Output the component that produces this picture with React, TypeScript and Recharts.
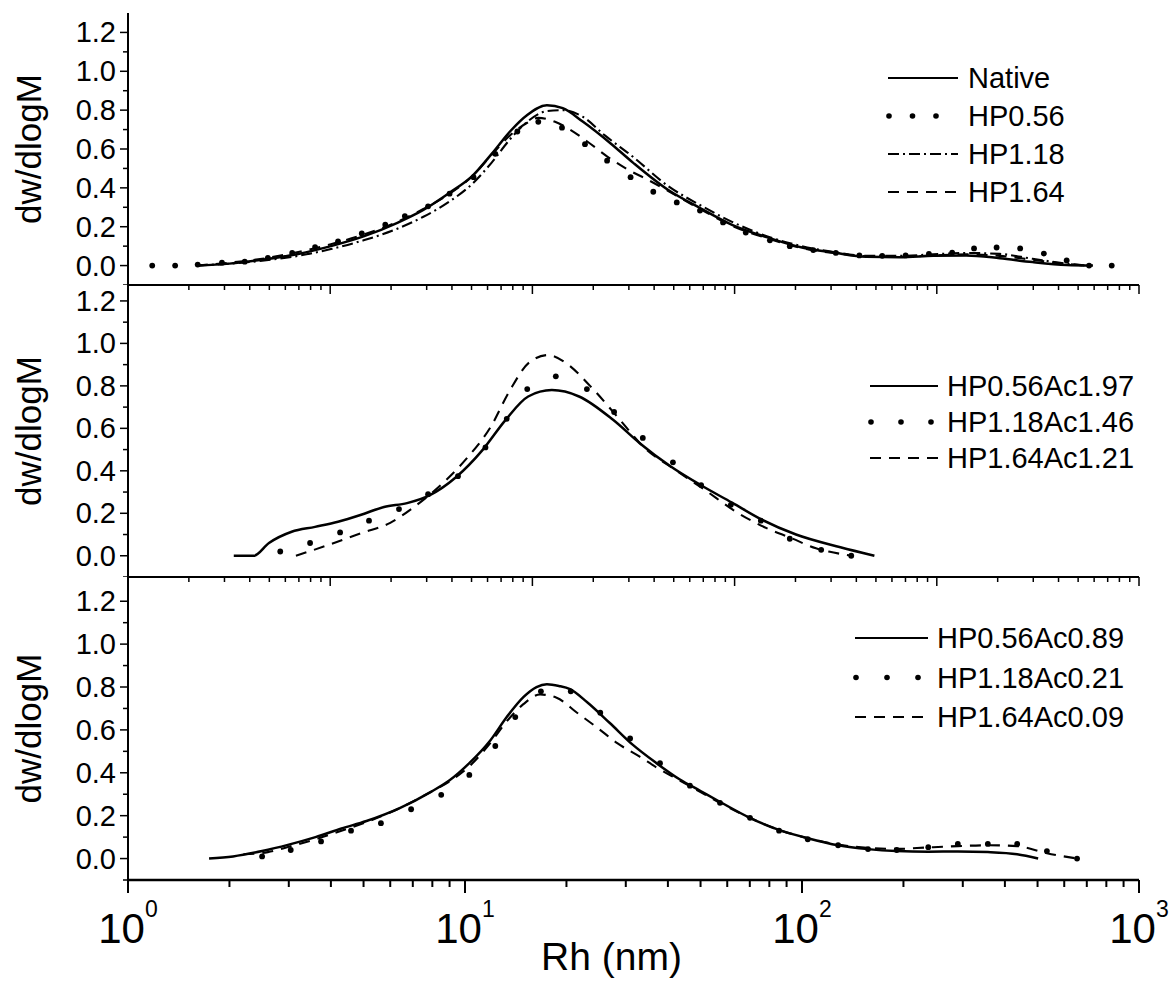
import React from 'react';
import { LineChart, Line, XAxis, YAxis, Legend, Label } from 'recharts';

const FONT = '"Liberation Sans", Arial, Helvetica, sans-serif';

// ---------- tick values ----------
const xMajorTicks = [1, 10, 100, 1000];
const xMinorTicks = [2, 3, 4, 5, 6, 7, 8, 9, 20, 30, 40, 50, 60, 70, 80, 90, 200, 300, 400, 500, 600, 700, 800, 900];
const innerMajorTicks = [1, 10, 100, 1000, 10000, 100000];
const innerMinorTicks = [
  2, 3, 4, 5, 6, 7, 8, 9,
  20, 30, 40, 50, 60, 70, 80, 90,
  200, 300, 400, 500, 600, 700, 800, 900,
  2000, 3000, 4000, 5000, 6000, 7000, 8000, 9000,
  20000, 30000, 40000, 50000, 60000, 70000, 80000, 90000,
];
const yMajorTicks = [0, 0.2, 0.4, 0.6, 0.8, 1.0, 1.2];
const yMinorTicks = [-0.1, 0.1, 0.3, 0.5, 0.7, 0.9, 1.1];

// ---------- panel 1 ----------
const nativeRh = [1.6, 2.0, 2.5, 3.2, 4.0, 5.0, 6.3, 7.5, 9.0, 10.5, 12.0, 13.6, 15.3, 17.5, 19.5, 22.4, 27, 31.5, 40, 50, 62, 79, 100, 124, 155, 195, 245, 307, 386, 483, 610, 730];
const nativeVal = [0.0, 0.01, 0.03, 0.06, 0.1, 0.15, 0.22, 0.285, 0.375, 0.46, 0.575, 0.69, 0.775, 0.825, 0.81, 0.74, 0.63, 0.53, 0.39, 0.295, 0.21, 0.145, 0.093, 0.067, 0.045, 0.043, 0.05, 0.052, 0.038, 0.018, 0.003, 0.0];

const hp056Rh = [1.18, 1.38, 1.61, 1.9, 2.22, 2.6, 3.07, 3.59, 4.2, 4.94, 5.8, 6.63, 7.77, 9.0, 10.6, 12.3, 14.3, 16.5, 19.4, 22.7, 26.4, 31.0, 36.2, 42.5, 49.8, 58.3, 68.1, 80.3, 92, 108, 126, 148, 173, 203, 238, 279, 324, 378, 444, 522, 610, 711, 830];
const hp056Val = [0.0, 0.0, 0.005, 0.015, 0.02, 0.04, 0.065, 0.095, 0.125, 0.165, 0.21, 0.255, 0.305, 0.37, 0.455, 0.575, 0.69, 0.74, 0.71, 0.625, 0.54, 0.455, 0.38, 0.325, 0.283, 0.222, 0.17, 0.13, 0.1, 0.08, 0.065, 0.052, 0.05, 0.052, 0.06, 0.067, 0.088, 0.093, 0.088, 0.062, 0.026, 0.0, 0.0];

const hp118Rh = [1.6, 2.0, 2.5, 3.2, 4.0, 5.0, 6.3, 7.5, 9.0, 10.5, 12.0, 13.6, 15.3, 17.5, 19.5, 22.4, 26, 31.5, 40, 50, 62, 79, 100, 124, 155, 195, 245, 307, 386, 483, 610, 700];
const hp118Val = [0.0, 0.01, 0.025, 0.05, 0.085, 0.13, 0.19, 0.25, 0.33, 0.42, 0.53, 0.65, 0.74, 0.795, 0.8, 0.765, 0.67, 0.56, 0.41, 0.31, 0.225, 0.15, 0.1, 0.07, 0.05, 0.05, 0.058, 0.065, 0.06, 0.035, 0.01, 0.0];

const hp164Rh = [1.6, 2.0, 2.5, 3.2, 4.0, 5.0, 6.3, 7.5, 9.0, 10.5, 12.0, 13.6, 15.3, 16.5, 18.5, 20.5, 23, 26.5, 30, 35, 40, 50, 62, 79, 100, 124, 155, 195, 245, 307, 386, 483, 610, 700];
const hp164Val = [0.0, 0.015, 0.035, 0.07, 0.11, 0.16, 0.225, 0.29, 0.37, 0.46, 0.57, 0.67, 0.735, 0.76, 0.74, 0.7, 0.64, 0.56, 0.5, 0.44, 0.385, 0.29, 0.205, 0.14, 0.09, 0.065, 0.048, 0.045, 0.052, 0.058, 0.05, 0.03, 0.008, 0.0];

// ---------- panel 2 ----------
const ac197Rh = [2.06, 2.36, 2.62, 3.06, 3.59, 4.2, 4.92, 5.75, 6.73, 7.87, 9.4, 11.3, 13.2, 15.4, 18.1, 21.8, 27.5, 33, 40.8, 50, 62, 76, 96, 130, 164];
const ac197Val = [0.0, 0.0, 0.06, 0.113, 0.136, 0.16, 0.193, 0.23, 0.248, 0.286, 0.37, 0.5, 0.64, 0.75, 0.78, 0.75, 0.64, 0.53, 0.42, 0.333, 0.25, 0.17, 0.1, 0.04, 0.0];

const ac146Rh = [2.83, 3.47, 4.26, 5.19, 6.37, 7.77, 9.53, 11.5, 13.3, 15.3, 18.6, 23, 27.7, 33.7, 41.4, 50.2, 61.5, 75.5, 92, 114, 140];
const ac146Val = [0.02, 0.06, 0.11, 0.165, 0.22, 0.29, 0.375, 0.51, 0.645, 0.785, 0.845, 0.785, 0.677, 0.555, 0.44, 0.333, 0.24, 0.165, 0.08, 0.028, 0.0];

const ac121Rh = [3.15, 3.87, 4.92, 6.0, 7.06, 8.7, 10.2, 11.9, 13.6, 15.5, 17.6, 20.0, 23.5, 28.3, 34, 42, 51.5, 63.7, 78.5, 93, 110, 120, 140];
const ac121Val = [0.0, 0.047, 0.107, 0.155, 0.23, 0.35, 0.465, 0.605, 0.78, 0.91, 0.945, 0.906, 0.8, 0.655, 0.51, 0.405, 0.31, 0.207, 0.13, 0.083, 0.035, 0.02, 0.0];

// ---------- panel 3 ----------
const ac089Rh = [1.74, 2.05, 2.5, 3.0, 3.6, 4.3, 5.1, 6.4, 7.9, 9.0, 10.3, 11.9, 13.3, 14.9, 16.3, 17.5, 19.0, 20.5, 23, 26.9, 31.5, 37, 43.3, 50, 57, 70, 85, 104, 128, 157, 191, 237, 290, 356, 435, 502];
const ac089Val = [0.0, 0.01, 0.035, 0.065, 0.1, 0.14, 0.175, 0.235, 0.31, 0.365, 0.445, 0.552, 0.66, 0.753, 0.8, 0.813, 0.805, 0.79, 0.73, 0.632, 0.53, 0.445, 0.37, 0.315, 0.265, 0.19, 0.135, 0.095, 0.062, 0.044, 0.035, 0.032, 0.033, 0.03, 0.02, 0.0];

const ac021Rh = [2.5, 3.04, 3.74, 4.59, 5.63, 6.92, 8.5, 10.3, 12.3, 14.1, 16.8, 20.6, 25.2, 30.9, 37.9, 46.5, 57.1, 70.1, 85.5, 104, 128, 157, 191, 237, 290, 356, 435, 533, 655];
const ac021Val = [0.01, 0.04, 0.08, 0.13, 0.165, 0.23, 0.297, 0.39, 0.525, 0.66, 0.78, 0.78, 0.68, 0.56, 0.445, 0.34, 0.26, 0.19, 0.13, 0.09, 0.062, 0.044, 0.04, 0.053, 0.068, 0.068, 0.068, 0.035, 0.0];

const ac009Rh = [2.2, 2.6, 3.0, 3.6, 4.3, 5.1, 6.4, 7.9, 9.0, 10.3, 11.9, 13.3, 14.9, 16.7, 18.7, 21.5, 24.7, 28.3, 33, 37, 43.3, 50, 57, 70, 85, 104, 128, 157, 191, 237, 290, 356, 435, 533, 655];
const ac009Val = [0.02, 0.03, 0.055, 0.09, 0.13, 0.17, 0.235, 0.31, 0.36, 0.43, 0.54, 0.64, 0.72, 0.765, 0.75, 0.68, 0.61, 0.538, 0.475, 0.425, 0.365, 0.31, 0.26, 0.19, 0.135, 0.095, 0.065, 0.05, 0.045, 0.052, 0.058, 0.062, 0.058, 0.025, 0.0];

type Kind = 'solid' | 'dots' | 'dashdot' | 'dash';
interface SeriesSpec { name: string; kind: Kind; rh: number[]; val: number[]; }

const panel1Series: SeriesSpec[] = [
  { name: 'Native', kind: 'solid', rh: nativeRh, val: nativeVal },
  { name: 'HP0.56', kind: 'dots', rh: hp056Rh, val: hp056Val },
  { name: 'HP1.18', kind: 'dashdot', rh: hp118Rh, val: hp118Val },
  { name: 'HP1.64', kind: 'dash', rh: hp164Rh, val: hp164Val },
];
const panel2Series: SeriesSpec[] = [
  { name: 'HP0.56Ac1.97', kind: 'solid', rh: ac197Rh, val: ac197Val },
  { name: 'HP1.18Ac1.46', kind: 'dots', rh: ac146Rh, val: ac146Val },
  { name: 'HP1.64Ac1.21', kind: 'dash', rh: ac121Rh, val: ac121Val },
];
const panel3Series: SeriesSpec[] = [
  { name: 'HP0.56Ac0.89', kind: 'solid', rh: ac089Rh, val: ac089Val },
  { name: 'HP1.18Ac0.21', kind: 'dots', rh: ac021Rh, val: ac021Val },
  { name: 'HP1.64Ac0.09', kind: 'dash', rh: ac009Rh, val: ac009Val },
];

const toPoints = (xs: number[], ys: number[]) => xs.map((x, i) => ({ x, y: ys[i] }));

const DASH = '11 8';
const DASHDOT = '11 4 2 4';

// ---------- ticks ----------
const YTick = (props: any) => {
  const { x, y, payload } = props;
  const v = payload.value;
  const major = yMajorTicks.some((m) => Math.abs(m - v) < 1e-9);
  return (
    <g>
      <line x1={x} x2={x - (major ? 8 : 5)} y1={y} y2={y} stroke="#000" strokeWidth={1.5} />
      {major && (
        <text x={x - 12} y={y + 10} textAnchor="end" fontSize={29} fontFamily={FONT} fill="#000">
          {v.toFixed(1)}
        </text>
      )}
    </g>
  );
};

const BottomTick = (props: any) => {
  const { x, y, payload } = props;
  const v = payload.value;
  const major = xMajorTicks.includes(v);
  const exp = Math.round(Math.log10(v));
  return (
    <g>
      <line x1={x} x2={x} y1={y} y2={y + (major ? 13 : 7)} stroke="#000" strokeWidth={2} />
      {major && (
        <text x={x} y={y + 63} textAnchor="middle" fontSize={42} fontFamily={FONT} fill="#000">
          <tspan>10</tspan>
          <tspan dy={-26} fontSize={23}>{exp}</tspan>
        </text>
      )}
    </g>
  );
};

const InnerTick = (props: any) => {
  const { x, y, payload } = props;
  const major = innerMajorTicks.includes(payload.value);
  return <line x1={x} x2={x} y1={y} y2={y + (major ? 9 : 5)} stroke="#000" strokeWidth={1.5} />;
};

const YTitle = (props: any) => {
  const vb = props.viewBox || { x: 48, y: 0, width: 80, height: 0 };
  const cx = vb.x - 20;
  const cy = vb.y + vb.height / 2;
  return (
    <text x={cx} y={cy} transform={`rotate(-90 ${cx} ${cy})`} textAnchor="middle" dominantBaseline="central" fontSize={35} fontFamily={FONT} fill="#000">
      dw/dlogM
    </text>
  );
};

const XTitle = (props: any) => {
  const vb = props.viewBox || { x: 128, y: 880, width: 1011, height: 101 };
  return (
    <text x={vb.x + vb.width / 2 - 22} y={vb.y + 90} textAnchor="middle" fontSize={39} fontFamily={FONT} fill="#000">
      Rh (nm)
    </text>
  );
};

interface LegendCfg { left: number; top: number; firstRow: number; rowGap: number; symStart: number; symEnd: number; dotGap: number; textX: number; }

const makeLegend = (series: SeriesSpec[], cfg: LegendCfg) => () => (
  <svg width={320} height={cfg.firstRow + cfg.rowGap * series.length + 10} style={{ overflow: 'visible', display: 'block' }}>
    {series.map((s, i) => {
      const cy = cfg.firstRow + i * cfg.rowGap;
      let sym: React.ReactNode = null;
      if (s.kind === 'dots') {
        sym = (
          <g>
            {[0, 1, 2].map((k) => (
              <circle key={k} cx={cfg.symStart + 1 + k * cfg.dotGap} cy={cy} r={2.8} fill="#000" />
            ))}
          </g>
        );
      } else {
        sym = (
          <line x1={cfg.symStart} x2={cfg.symEnd} y1={cy} y2={cy} stroke="#000" strokeWidth={s.kind === 'solid' ? 2.2 : 1.8}
            strokeDasharray={s.kind === 'dash' ? DASH : s.kind === 'dashdot' ? DASHDOT : undefined} />
        );
      }
      return (
        <g key={s.name}>
          {sym}
          <text x={cfg.textX} y={cy + 10} fontSize={29} fontFamily={FONT} fill="#000">{s.name}</text>
        </g>
      );
    })}
  </svg>
);

interface PanelProps {
  top: number; height: number; marginTop: number; domain: [number, number];
  series: SeriesSpec[]; legend: LegendCfg; bottom: boolean; inner: boolean;
}

const Panel = ({ top, height, marginTop, domain, series, legend, bottom, inner }: PanelProps) => (
  <div style={{ position: 'absolute', left: 0, top, width: 1174, height }}>
    <LineChart width={1174} height={height} margin={{ top: marginTop, right: 35, bottom: 0, left: 48 }}>
      <XAxis
        xAxisId="main" dataKey="x" type="number" scale="log" domain={[1, 1000]} allowDataOverflow
        ticks={[...xMajorTicks, ...xMinorTicks]} interval={0} tick={BottomTick} tickLine={false} tickSize={0} tickMargin={0}
        axisLine={bottom ? { stroke: '#000', strokeWidth: 2.5 } : false} hide={!bottom} height={bottom ? 101 : 0}
      >
        {bottom && <Label content={XTitle} />}
      </XAxis>
      {inner && (
        <XAxis
          xAxisId="inner" orientation="top" dataKey="x" type="number" scale="log" domain={[1, 100000]} allowDataOverflow
          ticks={[...innerMajorTicks, ...innerMinorTicks]} interval={0} tick={InnerTick} tickLine={false} tickSize={0} tickMargin={0}
          axisLine={{ stroke: '#000', strokeWidth: 2 }} height={1}
        />
      )}
      <YAxis
        type="number" domain={domain} allowDataOverflow ticks={[...yMajorTicks, ...yMinorTicks]} interval={0}
        tick={YTick} tickLine={false} tickSize={0} tickMargin={0} width={80}
        axisLine={{ stroke: '#000', strokeWidth: 2 }}
      >
        <Label content={YTitle} />
      </YAxis>
      <Legend
        layout="vertical" align="center" verticalAlign="middle"
        content={makeLegend(series, legend)}
        wrapperStyle={{ position: 'absolute', left: legend.left, top: legend.top, width: 320 }}
      />
      {inner && (
        <Line
          xAxisId="inner" data={toPoints(innerMajorTicks, innerMajorTicks.map(() => null as any))} dataKey="y"
          stroke="none" dot={false} activeDot={false} legendType="none" isAnimationActive={false}
        />
      )}
      {series.map((s) => (
        <Line
          key={s.name} name={s.name} xAxisId="main" data={toPoints(s.rh, s.val)} dataKey="y" type="monotone"
          stroke={s.kind === 'dots' ? 'none' : '#000'}
          strokeWidth={s.kind === 'solid' ? 2.5 : 2.1}
          strokeDasharray={s.kind === 'dash' ? DASH : s.kind === 'dashdot' ? DASHDOT : undefined}
          dot={s.kind === 'dots' ? { r: 2.9, fill: '#000', stroke: '#000', strokeWidth: 0 } : false}
          activeDot={false} isAnimationActive={false}
        />
      ))}
    </LineChart>
  </div>
);

export default function App() {
  return (
    <div style={{ position: 'absolute', left: 0, top: 0, width: 1174, height: 981, background: '#fff', fontFamily: FONT }}>
      <Panel top={0} height={285} marginTop={13} domain={[-0.1, 1.3]} series={panel1Series}
        legend={{ left: 880, top: 55, firstRow: 23, rowGap: 38, symStart: 8, symEnd: 78, dotGap: 23.5, textX: 88 }} bottom={false} inner={false} />
      <Panel top={284} height={293} marginTop={0} domain={[-0.1, 1.275]} series={panel2Series}
        legend={{ left: 860, top: 76, firstRow: 26, rowGap: 36, symStart: 10, symEnd: 78, dotGap: 30, textX: 87 }} bottom={false} inner={true} />
      <Panel top={576} height={405} marginTop={0} domain={[-0.1, 1.313]} series={panel3Series}
        legend={{ left: 845, top: 36, firstRow: 26, rowGap: 39.5, symStart: 10, symEnd: 83, dotGap: 31, textX: 92 }} bottom={true} inner={true} />
    </div>
  );
}
